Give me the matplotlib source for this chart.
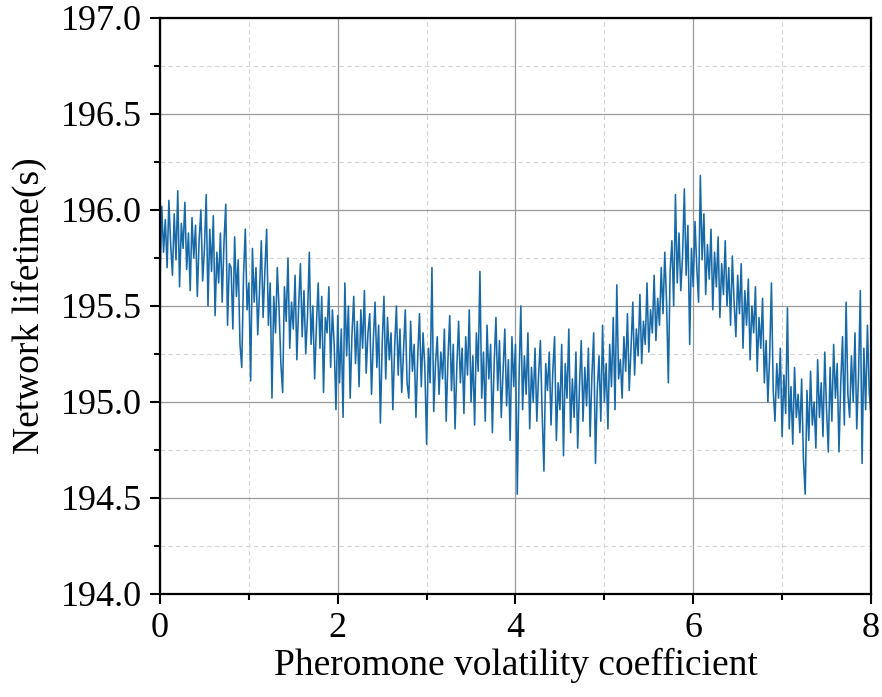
import numpy as np
import matplotlib.pyplot as plt
from matplotlib.ticker import MultipleLocator, FormatStrFormatter

# x step of the sampled curve (0 .. 8)
x_step = 0.02

# network lifetime, 20 points per row (0.4 of x per row)
lifetime = [
    195.62, 196.02, 195.78, 195.95, 195.70, 196.05, 195.82, 195.66, 195.98, 195.74,
    196.10, 195.60, 195.93, 195.80, 196.04, 195.69, 195.88, 195.58, 195.96, 195.75,
    195.92, 195.55, 195.84, 196.00, 195.63, 195.80, 196.08, 195.50, 195.90, 195.68,
    195.97, 195.45, 195.78, 195.62, 195.88, 195.52, 195.83, 196.03, 195.40, 195.72,
    195.70, 195.38, 195.86, 195.55, 195.74, 195.30, 195.18, 195.66, 195.90, 195.48,
    195.62, 195.11, 195.80, 195.52, 195.70, 195.35, 195.58, 195.84, 195.44, 195.68,
    195.90, 195.40, 195.62, 195.02, 195.55, 195.36, 195.70, 195.48, 195.20, 195.05,
    195.60, 195.42, 195.75, 195.28, 195.52, 195.38, 195.66, 195.22, 195.50, 195.72,
    195.34, 195.58, 195.25, 195.45, 195.78, 195.30, 195.50, 195.12, 195.40, 195.62,
    195.28, 195.55, 195.05, 195.44, 195.36, 195.60, 195.18, 195.48, 195.30, 194.96,
    195.45, 195.10, 195.38, 194.92, 195.62, 195.24, 195.50, 195.02, 195.35, 195.55,
    195.20, 195.42, 195.08, 195.48, 195.28, 195.58, 195.15, 195.36, 195.46, 195.04,
    195.32, 195.52, 195.18, 195.40, 194.89, 195.30, 195.55, 195.12, 195.44, 195.22,
    195.36, 194.96, 195.28, 195.50, 195.14, 195.38, 195.05, 195.26, 195.48, 195.10,
    195.02, 195.42, 195.16, 195.30, 194.92, 195.24, 195.46, 195.08, 195.36, 195.18,
    194.78, 195.28, 195.10, 195.70, 194.95, 195.20, 195.34, 195.04, 195.26, 195.12,
    195.38, 194.90, 195.22, 195.45, 195.06, 195.30, 194.86, 195.18, 195.42, 195.10,
    195.28, 194.94, 195.34, 195.14, 195.48, 195.00, 195.24, 194.88, 195.36, 195.16,
    195.68, 195.02, 195.26, 194.90, 195.40, 195.12, 195.30, 194.84, 195.20, 195.44,
    195.06, 195.32, 194.92, 195.16, 195.38, 194.98, 195.22, 194.80, 195.34, 195.08,
    195.30, 194.52, 195.12, 195.50, 194.96, 195.24, 195.04, 195.36, 194.86, 195.18,
    195.00, 195.28, 194.90, 195.14, 195.32, 194.94, 194.64, 195.20, 195.06, 195.26,
    194.88, 195.16, 195.34, 194.80, 195.10, 194.96, 195.30, 194.72, 195.20, 195.02,
    195.38, 194.84, 195.12, 194.92, 195.26, 194.76, 195.08, 195.32, 194.90, 195.18,
    194.98, 195.28, 194.82, 195.14, 195.36, 194.68, 195.06, 195.24, 194.90, 195.40,
    195.00, 195.20, 194.86, 195.30, 195.08, 195.44, 194.96, 195.61, 195.12, 195.22,
    195.02, 195.34, 195.16, 195.46, 195.06, 195.28, 195.52, 195.14, 195.38, 195.24,
    195.56, 195.20, 195.42, 195.30, 195.62, 195.26, 195.48, 195.36, 195.66, 195.32,
    195.54, 195.40, 195.70, 195.46, 195.78, 195.52, 195.10, 195.68, 195.84, 195.50,
    196.08, 195.62, 195.88, 195.58, 195.76, 196.11, 195.66, 195.92, 195.30, 195.80,
    195.60, 195.94, 195.70, 195.52, 196.18, 195.74, 195.98, 195.56, 195.82, 195.64,
    195.90, 195.48, 195.78, 195.60, 195.86, 195.44, 195.72, 195.56, 195.84, 195.50,
    195.70, 195.40, 195.76, 195.52, 195.34, 195.66, 195.46, 195.72, 195.28, 195.58,
    195.40, 195.64, 195.22, 195.50, 195.36, 195.60, 195.16, 195.44, 195.28, 195.54,
    195.10, 195.32, 195.00, 195.24, 195.62, 195.06, 194.90, 195.20, 195.02, 195.28,
    194.82, 195.14, 194.94, 195.49, 194.86, 195.08, 194.78, 195.18, 194.92, 195.04,
    194.84, 195.12, 194.70, 194.52, 195.06, 194.80, 195.16, 194.88, 195.00, 194.76,
    195.22, 194.92, 195.10, 194.82, 195.26, 194.96, 194.74, 195.18, 194.90, 195.30,
    195.02, 195.20, 194.74, 195.10, 195.34, 194.88, 195.52, 195.04, 194.92, 195.24,
    195.00, 195.36, 194.86, 195.14, 195.58, 194.68, 195.28, 194.96, 195.40, 195.06,
    194.92,
]
coef = np.arange(len(lifetime)) * x_step

plt.rcParams['font.family'] = ['Liberation Serif', 'DejaVu Serif']

fig = plt.figure(figsize=(8.82, 6.97), dpi=100)
ax = fig.add_axes([0.1814, 0.1478, 0.8061, 0.8264])

ax.plot(coef, lifetime, color='#1769a8', lw=1.15)

ax.set_xlim(0, 8)
ax.set_ylim(194.0, 197.0)
ax.xaxis.set_major_locator(MultipleLocator(2))
ax.xaxis.set_minor_locator(MultipleLocator(1))
ax.yaxis.set_major_locator(MultipleLocator(0.5))
ax.yaxis.set_minor_locator(MultipleLocator(0.25))
ax.yaxis.set_major_formatter(FormatStrFormatter('%.1f'))

# grid: solid major, dashed light minor
ax.grid(which='major', color='#9a9a9a', lw=0.9, ls='-')
ax.grid(which='minor', color='#d4d4d4', lw=0.8, ls=(0, (4, 3)))
ax.set_axisbelow(True)

for s in ax.spines.values():
    s.set_linewidth(1.6)
ax.tick_params(which='major', direction='out', length=7, width=1.5,
               labelsize=26, pad=6)
ax.tick_params(which='minor', direction='out', length=4.5, width=1.5)

ax.set_xlabel('Pheromone volatility coefficient', fontsize=27, labelpad=2)
ax.set_ylabel('Network lifetime(s)', fontsize=27, labelpad=10)

fig.savefig('out.png', dpi=100)
